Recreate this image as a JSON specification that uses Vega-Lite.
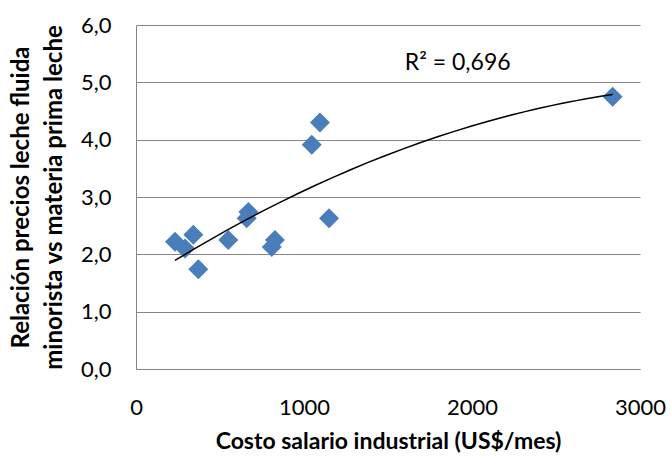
{
  "$schema": "https://vega.github.io/schema/vega-lite/v6.json",
  "width": 504,
  "height": 344,
  "autosize": {"type": "none"},
  "padding": {"left": 136, "top": 25, "right": 30, "bottom": 87},
  "background": "white",
  "config": {
    "view": {"stroke": null},
    "font": "Lato"
  },
  "datasets": {
    "pts": [
      {"salario": 232, "relacion": 2.22},
      {"salario": 292, "relacion": 2.10},
      {"salario": 341, "relacion": 2.34},
      {"salario": 371, "relacion": 1.74},
      {"salario": 549, "relacion": 2.25},
      {"salario": 669, "relacion": 2.74},
      {"salario": 659, "relacion": 2.63},
      {"salario": 827, "relacion": 2.25},
      {"salario": 808, "relacion": 2.13},
      {"salario": 1046, "relacion": 3.91},
      {"salario": 1095, "relacion": 4.30},
      {"salario": 1149, "relacion": 2.63},
      {"salario": 2837, "relacion": 4.75}
    ],
    "ann": [
      {"salario": 1600, "relacion": 5.34, "label": "R² = 0,696"}
    ]
  },
  "layer": [
    {
      "data": {"name": "pts"},
      "mark": {"type": "point", "shape": "diamond", "filled": true, "size": 400, "color": "#4A7EBB", "opacity": 1},
      "encoding": {
        "x": {
          "field": "salario", "type": "quantitative",
          "scale": {"domain": [0, 3000], "nice": false, "zero": false},
          "axis": {
            "values": [0, 1000, 2000, 3000],
            "format": "d",
            "grid": false, "ticks": false,
            "domainColor": "#868686", "domainWidth": 1,
            "labelFontSize": 22, "labelColor": "#000000", "labelPadding": 28,
            "labelFlush": false,
            "title": "Costo salario industrial (US$/mes)",
            "titleFontSize": 23, "titleFontWeight": "bold", "titleColor": "#000000",
            "titlePadding": 12
          }
        },
        "y": {
          "field": "relacion", "type": "quantitative",
          "scale": {"domain": [0, 6], "nice": false, "zero": true},
          "axis": {
            "values": [0, 1, 2, 3, 4, 5, 6],
            "grid": true, "gridColor": "#868686", "gridWidth": 1,
            "ticks": false,
            "domainColor": "#868686", "domainWidth": 1,
            "labelFontSize": 22, "labelColor": "#000000", "labelPadding": 25,
            "labelExpr": "replace(format(datum.value, '.1f'), '.', ',')",
            "title": ["Relación precios leche fluida", "minorista vs materia prima leche"],
            "titleFontSize": 24, "titleFontWeight": "bold", "titleColor": "#000000",
            "titleLineHeight": 33, "titlePadding": 14
          }
        }
      }
    },
    {
      "data": {"name": "pts"},
      "transform": [
        {"regression": "relacion", "on": "salario", "method": "poly", "order": 2}
      ],
      "mark": {"type": "line", "color": "#000000", "strokeWidth": 1.5},
      "encoding": {
        "x": {"field": "salario", "type": "quantitative"},
        "y": {"field": "relacion", "type": "quantitative"}
      }
    },
    {
      "data": {"name": "ann"},
      "mark": {"type": "text", "align": "left", "baseline": "middle", "fontSize": 23, "color": "#000000"},
      "encoding": {
        "x": {"field": "salario", "type": "quantitative"},
        "y": {"field": "relacion", "type": "quantitative"},
        "text": {"field": "label"}
      }
    }
  ]
}
